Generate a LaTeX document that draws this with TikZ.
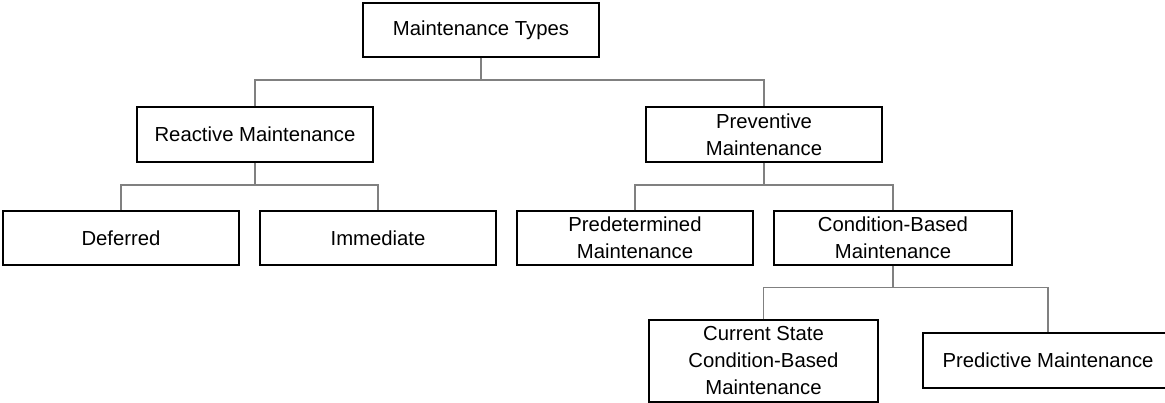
\documentclass[tikz,border=0pt]{standalone}
\usepackage{fontspec}
\setmainfont{Liberation Sans}
\usetikzlibrary{positioning}

\tikzset{
  box/.style={draw,line width=1.2pt,align=center,inner sep=2pt,
    minimum width=236pt,minimum height=55pt,font=\fontsize{20.3}{27}\selectfont},
  link/.style={draw=gray,line width=1.4pt}
}

\begin{document}
\begin{tikzpicture}[x=1pt,y=-1pt]
  \useasboundingbox (0,0) rectangle (1165,403);
  % tree levels
  \node[box,minimum height=54pt] (types) at (481,30) {Maintenance Types};
  \node[box] (react) at (255,134.5) {Reactive Maintenance};
  \node[box] (prev) at (764,134.5) {Preventive\\Maintenance};
  \node[box,minimum height=54pt] (defer) at (121,238) {Deferred};
  \node[box,minimum height=54pt] (immed) at (378,238) {Immediate};
  \node[box,minimum height=54pt] (predet) at (635,238) {Predetermined\\Maintenance};
  \node[box,minimum width=238pt,minimum height=54pt] (cbm) at (893,238) {Condition-Based\\Maintenance};
  \node[box,minimum width=229pt,minimum height=82pt] (state) at (763.5,361) {Current State\\Condition-Based\\Maintenance};
  \node[box,minimum width=250pt] (predict) at (1048,360.5) {Predictive Maintenance};
  % connectors
  \coordinate (split1) at (481,80);
  \coordinate (split2) at (255,185);
  \coordinate (split3) at (764,185);
  \coordinate (split4) at (893,287.5);
  \draw[link] (types) -- (split1);
  \draw[link] (react.north) |- (split1) -| (prev.north);
  \draw[link] (react) -- (split2);
  \draw[link] (defer.north) |- (split2) -| (immed.north);
  \draw[link] (prev) -- (split3);
  \draw[link] (predet.north) |- (split3) -| (cbm.north);
  \draw[link] (cbm) -- (split4);
  \draw[link] (state.north) |- (split4) -| (predict.north);
\end{tikzpicture}
\end{document}
